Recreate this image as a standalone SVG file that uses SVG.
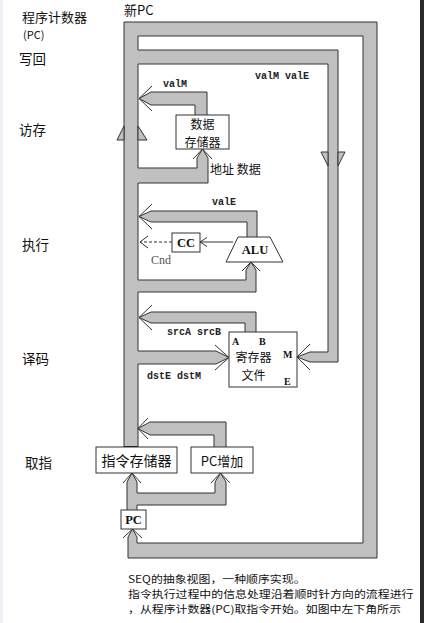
<svg xmlns="http://www.w3.org/2000/svg" width="424" height="623" viewBox="0 0 424 623">
<style>
.pf{fill:#c0c0c0;stroke:none}
.pe{fill:none;stroke:#333;stroke-width:1}
.tri{fill:#c0c0c0;stroke:#333;stroke-width:1}
.box{fill:#fff;stroke:#333;stroke-width:1}
.cjk{font-family:"Noto Sans CJK SC","Noto Sans",sans-serif;fill:#111}
.mono{font-family:"Liberation Mono",monospace;font-weight:bold;font-size:10px;fill:#222}
.ser{font-family:"Liberation Serif",serif;font-weight:bold;fill:#111}
.lab{font-size:13.5px}
</style>
<rect x="0" y="0" width="424" height="623" fill="#fff"/>
<rect x="0" y="0" width="3" height="623" fill="#eef2f7"/>
<rect x="420" y="0" width="4" height="623" fill="#2b2b2b"/>

<g id="stage-labels">
<text class="cjk" x="22" y="22" font-size="13">程序计数器</text>
<text class="cjk" x="23" y="39" font-size="11">(PC)</text>
<text class="cjk lab" x="19" y="64">写回</text>
<text class="cjk lab" x="19" y="135">访存</text>
<text class="cjk lab" x="22" y="250">执行</text>
<text class="cjk lab" x="22" y="364">译码</text>
<text class="cjk lab" x="25" y="468">取指</text>
<text class="cjk" x="124" y="15" font-size="13">新PC</text>
</g>

<g id="connectors">
<!-- main loop -->
<path class="pf" d="M124,22 H377 V558 H128 V537 L132.5,529 L137,537 V543 H363 V36 H138 V447 H124 Z"/>
<path class="pe" d="M124,447 V22 H377 V558 H128 V537 L132.5,529 L137,537 V543 H363 V36 H138 V50 M138,64 V168 M138,183 V280 M138,292 V351 M138,364 V447"/>
<line x1="124" y1="447" x2="138" y2="447" stroke="#111" stroke-width="2"/>
<path class="pe" d="M123,538 L132.5,529 L142,538"/>
<!-- up arrow on main pipe -->
<path class="tri" d="M117,140 L124,126 L124,140 Z"/>
<path class="tri" d="M147,140 L138,126 L138,140 Z"/>
<!-- valM valE bus to register file M -->
<path class="pf" d="M138,50 H338 V362 H310 L297,357 L310,352 H328 V64 H138 Z"/>
<path class="pe" d="M138,50 H338 V362 H310 L297,357 L310,352 H328 V64 H138"/>
<path class="pe" d="M310,344 L297,357 L310,370"/>
<path class="tri" d="M321,152 L328,152 L328,166 Z"/>
<path class="tri" d="M345,152 L338,152 L338,166 Z"/>
<!-- valM -->
<path class="pf" d="M207,115 V92 H151 L139,98.5 L151,105 H195 V115 Z"/>
<path class="pe" d="M195,115 V105 H151 L139,98.5 L151,92 H207 V115"/>
<path class="pe" d="M152,86 L139,98.5 L152,111"/>
<!-- address / data -->
<path class="pf" d="M138,168 H197 V158 L202.5,149 L208,158 V183 H138 Z"/>
<path class="pe" d="M138,168 H197 V158 L202.5,149 L208,158 V183 H138"/>
<path class="pe" d="M193,159 L202.5,149 L212,159"/>
<!-- valE -->
<path class="pf" d="M257,237 V211 H151 L139,216.5 L151,222 H247 V237 Z"/>
<path class="pe" d="M247,237 V222 H151 L139,216.5 L151,211 H257 V237"/>
<path class="pe" d="M152,204 L139,216.5 L152,229"/>
<!-- ALU input -->
<path class="pf" d="M138,280 H246 V270 L251,262 L256,270 V292 H138 Z"/>
<path class="pe" d="M138,280 H246 V270 L251,262 L256,270 V292 H138"/>
<path class="pe" d="M242,271 L251,262 L260,271"/>
<!-- ALU to CC, CC to Cnd -->
<line class="pe" x1="233" y1="242" x2="200" y2="242"/>
<path class="pe" d="M207,237.5 L200,242 L207,246.5"/>
<line class="pe" x1="172" y1="242" x2="140" y2="242" stroke-dasharray="3,2"/>
<path class="pe" d="M148,236 L140,242 L148,248"/>
<!-- srcA srcB -->
<path class="pf" d="M256,332 V312 H151 L139,317.5 L151,323 H245 V332 Z"/>
<path class="pe" d="M245,332 V323 H151 L139,317.5 L151,312 H256 V332"/>
<path class="pe" d="M152,305 L139,317.5 L152,330"/>
<!-- dstE dstM -->
<path class="pf" d="M138,351 H216 L229,357.5 L216,364 H138 Z"/>
<path class="pe" d="M138,351 H216 L229,357.5 L216,364 H138"/>
<path class="pe" d="M215,345 L229,357.5 L215,370"/>
<!-- PC increment output -->
<path class="pf" d="M226,447 V422 H150 L138,428.5 L150,435 H214 V447 Z"/>
<path class="pe" d="M214,447 V435 H150 L138,428.5 L150,422 H226 V447"/>
<path class="pe" d="M148,418 L138,428.5 L148,439"/>
<!-- PC to instruction memory and PC increment -->
<path class="pf" d="M127,510 V482 L132,473 L137,482 V493 H215 V482 L220.5,473 L226,482 V505 H137 V510 Z"/>
<path class="pe" d="M127,510 V482 L132,473 L137,482 V493 H215 V482 L220.5,473 L226,482 V505 H137 V510"/>
<path class="pe" d="M123,483 L132,473 L141,483"/>
<path class="pe" d="M211,483 L220.5,473 L230,483"/>
</g>

<g id="bus-labels">
<text class="mono" x="255" y="78.5">valM valE</text>
<text class="mono" x="163" y="87">valM</text>
<text class="cjk" x="210" y="174" font-size="12">地址 数据</text>
<text class="mono" x="212" y="205">valE</text>
<text x="151" y="264" font-family="Liberation Serif, serif" font-size="12" fill="#555">Cnd</text>
<text class="mono" x="167" y="335">srcA srcB</text>
<text class="mono" x="147" y="379">dstE dstM</text>
</g>

<g id="data-memory">
<rect class="box" x="176" y="115" width="53" height="34"/>
<text class="cjk" x="202.5" y="129" font-size="12" text-anchor="middle">数据</text>
<text class="cjk" x="202.5" y="146.5" font-size="12" text-anchor="middle">存储器</text>
</g>

<g id="cc">
<rect class="box" x="172" y="233" width="28" height="19"/>
<text class="ser" x="186" y="247" font-size="12.5" text-anchor="middle">CC</text>
</g>

<g id="alu">
<path class="box" d="M238,237 H270 L283,262 H226 Z"/>
<text class="ser" x="255" y="254" font-size="12.5" text-anchor="middle">ALU</text>
</g>

<g id="register-file">
<rect class="box" x="229" y="332" width="68" height="55"/>
<text class="ser" x="232" y="345" font-size="10">A</text>
<text class="ser" x="259" y="345" font-size="10">B</text>
<text class="ser" x="283" y="358" font-size="10">M</text>
<text class="ser" x="284" y="385" font-size="10">E</text>
<text class="cjk" x="253.5" y="362" font-size="12" text-anchor="middle">寄存器</text>
<text class="cjk" x="253.5" y="380" font-size="12" text-anchor="middle">文件</text>
</g>

<g id="instruction-memory">
<rect class="box" x="96" y="447" width="81" height="26"/>
<text class="cjk" x="136.5" y="465.5" font-size="14" text-anchor="middle">指令存储器</text>
</g>

<g id="pc-increment">
<rect class="box" x="191" y="447" width="62" height="26"/>
<text class="cjk" x="222" y="465.5" font-size="13" text-anchor="middle">PC增加</text>
</g>

<g id="pc">
<rect class="box" x="121" y="510" width="25" height="19"/>
<text class="ser" x="133.5" y="524" font-size="12.5" text-anchor="middle">PC</text>
</g>

<g id="caption" class="cjk" font-size="10" fill="#222">
<text transform="translate(128 583) scale(1.19 1)">SEQ的抽象视图，一种顺序实现。</text>
<text transform="translate(128 598) scale(1.19 1)">指令执行过程中的信息处理沿着顺时针方向的流程进行</text>
<text transform="translate(128 613) scale(1.19 1)">，从程序计数器(PC)取指令开始。如图中左下角所示</text>
</g>
</svg>
